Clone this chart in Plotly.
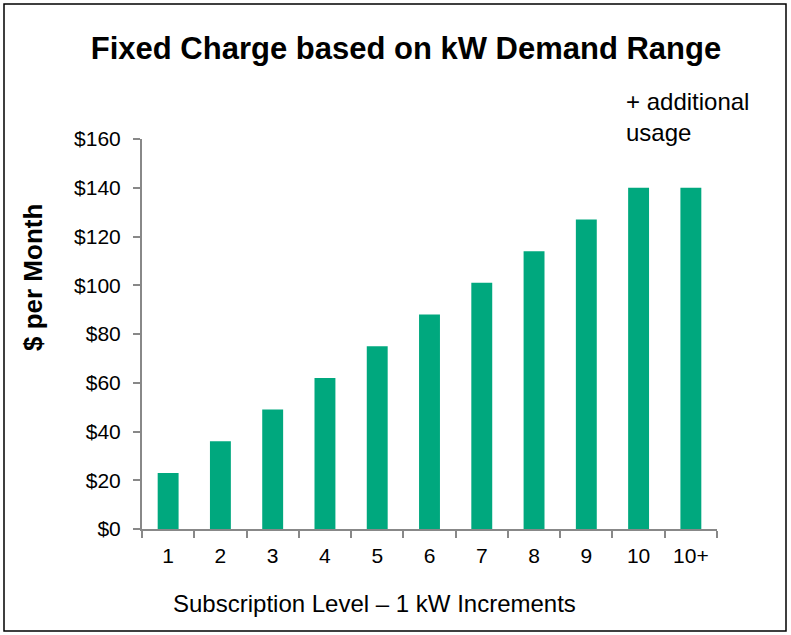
import plotly.graph_objects as go

categories = ["1", "2", "3", "4", "5", "6", "7", "8", "9", "10", "10+"]
values = [23, 36, 49, 62, 75, 88, 101, 114, 127, 140, 140]
y_ticks = [0, 20, 40, 60, 80, 100, 120, 140, 160]
y_tick_labels = ["$" + str(v) for v in y_ticks]

W, H = 791, 635
L, R, T, B = 142, 74, 139, 106
pw, ph = W - L - R, H - T - B

def px(x):
    return (x - L) / pw

def py(y):
    return (H - B - y) / ph

fig = go.Figure()
fig.add_trace(go.Bar(x=categories, y=values, marker=dict(color="#00A87E", line=dict(width=0)),
                     width=0.4))

font = "Liberation Sans, Arial, sans-serif"
fig.update_layout(
    width=W, height=H,
    margin=dict(l=L, r=R, t=T, b=B),
    paper_bgcolor="white", plot_bgcolor="white",
    font=dict(family=font, color="black", size=20),
    showlegend=False,
    title=dict(text="<b>Fixed Charge based on kW Demand Range</b>", x=406 / W, xanchor="center",
               y=1 - 48 / H, yanchor="middle", font=dict(size=31, family=font)),
    xaxis=dict(type="category", showline=True, linecolor="#888888", linewidth=2,
               ticks="outside", tickson="boundaries", ticklen=7, tickcolor="#888888", tickwidth=2,
               showgrid=False, tickfont=dict(size=21), range=[-0.5, 10.5], ticklabelstandoff=7),
    yaxis=dict(range=[0, 160], tickvals=y_ticks, ticktext=y_tick_labels, showline=True,
               linecolor="#888888", linewidth=2, ticks="outside", ticklen=7, tickcolor="#888888",
               tickwidth=2, showgrid=False, zeroline=False, tickfont=dict(size=21),
               ticklabelstandoff=8),
)

fig.add_annotation(text="<b>$ per Month</b>", textangle=-90, xref="paper", yref="paper",
                   x=px(33), y=py(278), xanchor="center", yanchor="middle", showarrow=False,
                   font=dict(size=26))
fig.add_annotation(text="Subscription Level \u2013 1 kW Increments", xref="paper", yref="paper",
                   x=px(374), y=py(603), xanchor="center", yanchor="middle", showarrow=False,
                   font=dict(size=24))
fig.add_annotation(text="+ additional<br>usage", xref="paper", yref="paper",
                   x=px(624), y=py(117), xanchor="left", yanchor="middle", align="left",
                   showarrow=False, font=dict(size=24))
fig.add_shape(type="rect", xref="paper", yref="paper", x0=px(4), x1=px(786), y0=py(631), y1=py(4),
              line=dict(color="black", width=1.5), fillcolor="rgba(0,0,0,0)")

fig.write_html("out.html", config={"displayModeBar": False},
               post_script="document.body.style.margin='0';document.body.style.overflow='hidden';")
